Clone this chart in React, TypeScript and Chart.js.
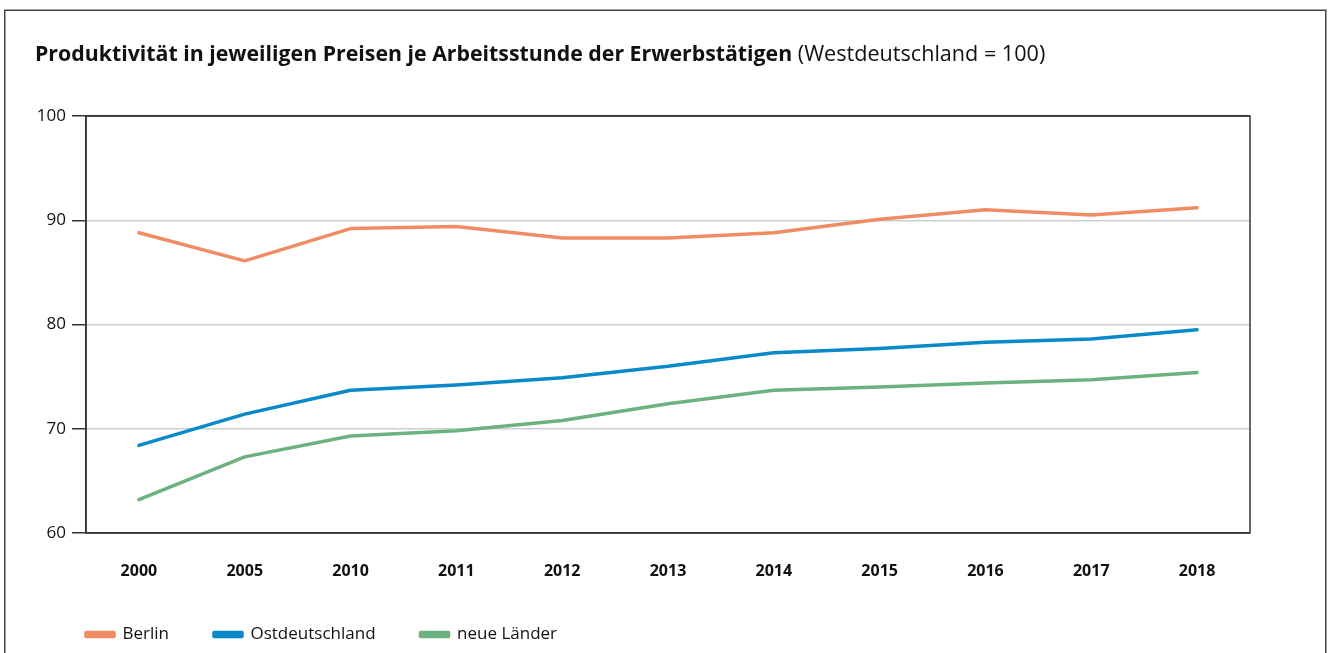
import React, { useEffect, useRef } from "react";
import { Chart, registerables } from "chart.js";

Chart.register(...registerables);

const years = ["2000", "2005", "2010", "2011", "2012", "2013", "2014", "2015", "2016", "2017", "2018"];
const berlin = [88.8, 86.1, 89.2, 89.4, 88.3, 88.3, 88.8, 90.1, 91.0, 90.5, 91.2];
const ostdeutschland = [68.4, 71.4, 73.7, 74.2, 74.9, 76.0, 77.3, 77.7, 78.3, 78.6, 79.5];
const neueLaender = [63.2, 67.3, 69.3, 69.8, 70.8, 72.4, 73.7, 74.0, 74.4, 74.7, 75.4];
const seriesNames = ["Berlin", "Ostdeutschland", "neue Länder"];
const seriesColors = ["#ef8c64", "#0a89c9", "#6bb27f"];
const titleBold = "Produktivität in jeweiligen Preisen je Arbeitsstunde der Erwerbstätigen";
const titleNormal = " (Westdeutschland = 100)";

const FONT = "'Open Sans', 'Noto Sans', sans-serif";

const framePlugin = {
  id: "frame",
  afterLayout(chart: any) {
    if (chart.legend) {
      const w = chart.legend.right - chart.legend.left;
      chart.legend.left = 41;
      chart.legend.right = 41 + w;
    }
  },
  beforeDraw(chart: any) {
    const ctx = chart.ctx;
    ctx.save();
    ctx.fillStyle = "#ffffff";
    ctx.fillRect(0, 0, chart.width, chart.height);
    ctx.strokeStyle = "#444444";
    ctx.lineWidth = 1.5;
    ctx.strokeRect(4.75, 10.25, 1321, 700);
    ctx.textBaseline = "middle";
    ctx.fillStyle = "#111111";
    ctx.font = `bold 21.3px ${FONT}`;
    ctx.fillText(titleBold, 35, 54.5);
    const w = ctx.measureText(titleBold).width;
    ctx.font = `21.6px ${FONT}`;
    ctx.fillText(titleNormal, 35 + w, 54.5);
    ctx.restore();
  },
  afterDraw(chart: any) {
    const { left, top, right, bottom } = chart.chartArea;
    const ctx = chart.ctx;
    ctx.save();
    ctx.strokeStyle = "#333333";
    ctx.lineWidth = 1.5;
    ctx.strokeRect(left, top, right - left, bottom - top);
    ctx.restore();
  },
};

export default function App() {
  const ref = useRef<HTMLCanvasElement>(null);
  useEffect(() => {
    if (!ref.current) return;
    const data = [berlin, ostdeutschland, neueLaender];
    const chart = new Chart(ref.current, {
      type: "line",
      data: {
        labels: years,
        datasets: data.map((d, i) => ({
          label: seriesNames[i],
          data: d,
          borderColor: seriesColors[i],
          backgroundColor: seriesColors[i],
          borderWidth: 3.5,
          pointRadius: 0,
          tension: 0,
          borderCapStyle: "round",
          borderJoinStyle: "round",
        })),
      },
      options: {
        animation: false,
        responsive: false,
        devicePixelRatio: 1,
        layout: { padding: { left: 30, right: 83, top: 116, bottom: 0 } },
        plugins: {
          title: { display: false },
          tooltip: { enabled: false },
          legend: {
            position: "bottom",
            align: "start",
            labels: {
              boxWidth: 28,
              boxHeight: 4,
              padding: 45,
              color: "#111111",
              font: { family: FONT, size: 17 },
            },
          },
        },
        scales: {
          x: {
            offset: true,
            grid: { display: false, drawTicks: false },
            border: { display: false },
            ticks: {
              padding: 29,
              color: "#111111",
              font: { family: FONT, size: 16, weight: "bold" },
              maxRotation: 0,
            },
            afterFit: (scale: any) => {
              scale.height = 48;
            },
          },
          y: {
            min: 60,
            max: 100,
            ticks: {
              stepSize: 10,
              padding: 6,
              color: "#111111",
              font: { family: FONT, size: 17 },
            },
            grid: {
              color: (c: any) =>
                c.tick && (c.tick.value === 60 || c.tick.value === 100) ? "#333333" : "#c9ced2",
              tickColor: "#333333",
              tickLength: 14,
              lineWidth: 1.5,
            },
            border: { display: true, color: "#333333", width: 1.5 },
            afterFit: (scale: any) => {
              scale.width = 56;
            },
          },
        },
      },
      plugins: [framePlugin],
    });
    return () => chart.destroy();
  }, []);
  return (
    <canvas
      ref={ref}
      width={1333}
      height={653}
      style={{ position: "absolute", left: 0, top: 0, width: 1333, height: 653 }}
    />
  );
}
